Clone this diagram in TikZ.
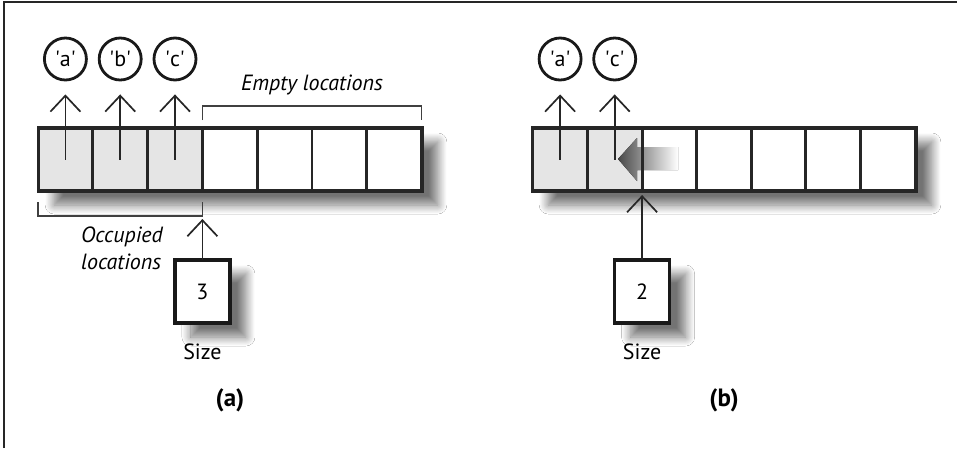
\documentclass[tikz,border=0pt]{standalone}
\usepackage{fontspec}
\setmainfont{PT Sans}
\usetikzlibrary{arrows.meta,shadows.blur,calc}

\begin{document}
\begin{tikzpicture}[x=1pt,y=-1pt,
  font=\fontsize{22}{26}\selectfont,
  cellbox/.style={draw=black!85,line width=2.8pt,minimum width=54.8pt,minimum height=63pt,inner sep=0pt,outer sep=0pt},
  usedcell/.style={cellbox,fill=black!10},
  freecell/.style={cellbox,fill=white},
  arrframe/.style={draw=black!85,line width=3.4pt,minimum width=383.6pt,minimum height=63pt,inner sep=0pt,outer sep=0pt},
  shad/.style={blur shadow={shadow xshift=16pt,shadow yshift=-14pt,shadow blur radius=9pt,shadow blur steps=16,shadow opacity=55}},
  valcircle/.style={circle,draw=black!90,line width=2.8pt,minimum size=42pt,inner sep=0pt},
  ptr/.style={draw=black!85,line width=1.7pt,-{Straight Barb[length=16pt,width=30pt,line width=1.7pt]}},
  bracket/.style={draw=black!75,line width=1.5pt},
  sizebox/.style={draw=black!90,line width=3.2pt,fill=white,minimum width=55pt,minimum height=63pt,inner sep=0pt,outer sep=0pt},
  cellline/.style={draw=black!85,line width=2.8pt},
  lbl/.style={inner sep=0pt},
]
\useasboundingbox (0,0) rectangle (957,448);
\fill[white] (0,0) rectangle (957,448);
\draw[line width=2pt,black!85] (3.5,448) -- (3.5,2) -- (957,2);

% ---------- panel (a) ----------
\node[arrframe,shad,fill=white] (arrA) at (230,159.5) {};
\foreach \i/\k in {1/usedcell,2/usedcell,3/usedcell,4/freecell,5/freecell,6/freecell,7/freecell}{
  \node[\k] (a\i) at ({38+54.8*(\i-0.5)},159.5) {};
}
\node[arrframe] at (arrA.center) {};

\node[valcircle] (ca) at (a1.center |- 0,59) {\textquotesingle a\textquotesingle};
\node[valcircle] (cb) at (a2.center |- 0,59) {\textquotesingle b\textquotesingle};
\node[valcircle] (cc) at (a3.center |- 0,59) {\textquotesingle c\textquotesingle};
\draw[ptr,shorten >=13pt] (a1.center) -- (ca);
\draw[ptr,shorten >=13pt] (a2.center) -- (cb);
\draw[ptr,shorten >=13pt] (a3.center) -- (cc);

\coordinate (emL) at ($(a4.north west)+(0,-8)$);
\coordinate (emR) at ($(a7.north east)+(0,-8)$);
\draw[bracket] (emL) -- ++(0,-14) -| (emR);
\node[lbl,font=\fontsize{22}{26}\selectfont\itshape] (emlbl) at (312,85) {Empty locations};

\coordinate (ocL) at ($(a1.south west)+(0,11)$);
\coordinate (ocR) at ($(a3.south east)+(0,11)$);
\coordinate (ocTip) at ($(a3.south east)+(0,25)$);
\draw[bracket] (ocL) -- ++(0,14) -| (ocR);
\node[lbl,align=left,font=\fontsize{22}{27}\selectfont\itshape] (oclbl) at (122,248) {Occupied\\locations};

\node[sizebox,shad] (sizeA) at ($(a3.south east)+(0,100.5)$) {3};
\draw[ptr,shorten >=3pt] (sizeA) -- (ocTip);
\node[lbl] (sizeAl) at ($(sizeA.south)+(0,29)$) {Size};
\node[lbl,font=\fontsize{25}{28}\selectfont\bfseries] (capA) at (230,400) {(a)};

% ---------- panel (b) ----------
\node[arrframe,shad,fill=white] (arrB) at (724,159.5) {};
\foreach \i/\k in {1/usedcell,2/usedcell,3/freecell,4/freecell,5/freecell,6/freecell,7/freecell}{
  \node[\k] (b\i) at ({532.8+54.6*(\i-0.5)},159.5) {};
}
\fill[left color=black!72,right color=white] (618,159) -- (637,138) -- (637,147) -- (678,147) -- (678,170) -- (637,170) -- (637,181) -- cycle;
\draw[cellline] (b2.north east) -- (b2.south east);
\node[arrframe] at (arrB.center) {};

\node[valcircle] (cba) at (b1.center |- 0,59) {\textquotesingle a\textquotesingle};
\node[valcircle] (cbc) at (b2.center |- 0,59) {\textquotesingle c\textquotesingle};
\draw[ptr,shorten >=13pt] (b1.center) -- (cba);
\draw[ptr,shorten >=13pt] (b2.center) -- (cbc);

\node[sizebox,shad] (sizeB) at ($(b2.south east)+(0,100.5)$) {2};
\draw[ptr,shorten >=4pt] (sizeB) -- (b2.south east);
\node[lbl] (sizeBl) at ($(sizeB.south)+(0,29)$) {Size};
\node[lbl,font=\fontsize{25}{28}\selectfont\bfseries] (capB) at (724,400) {(b)};
\end{tikzpicture}
\end{document}
